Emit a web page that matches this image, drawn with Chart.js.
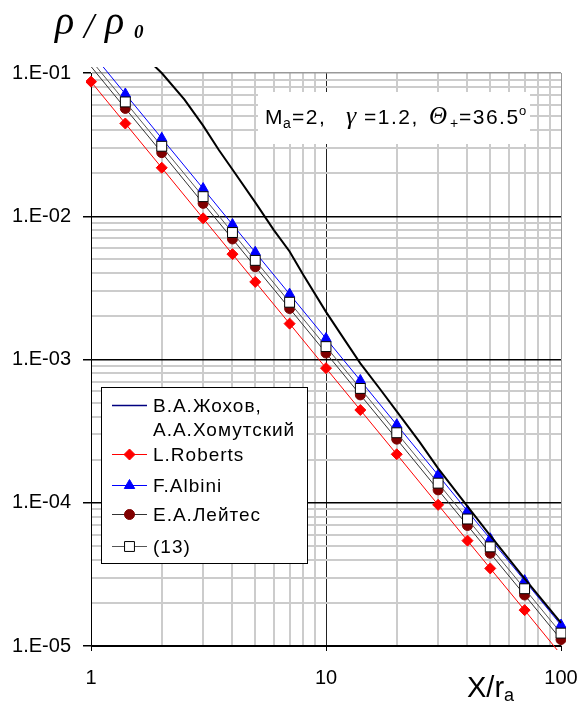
<!DOCTYPE html>
<html>
<head>
<meta charset="utf-8">
<script src="https://cdn.jsdelivr.net/npm/chart.js@4.4.0/dist/chart.umd.min.js"></script>
<style>
    html, body { margin: 0; padding: 0; background: #fff; }
    #wrap { width: 580px; height: 703px; position: relative; }
</style>
</head>
<body>
<div id="wrap"><canvas id="grafico" width="580" height="703"></canvas></div>
<script>
// datos
var xPuntos = [1, 1.4, 2, 3, 4, 5, 7, 10, 14, 20, 30, 40, 50, 70, 100];
var roberts = [0.087, 0.0444, 0.0218, 0.00967, 0.00544, 0.00348, 0.00178, 0.00087, 0.000444, 0.000218, 0.0000967, 0.0000544, 0.0000348, 0.0000178, 0.0000087];
var albini = [0.14, 0.0714, 0.035, 0.0156, 0.00875, 0.0056, 0.00286, 0.0014, 0.000714, 0.00035, 0.000156, 0.0000875, 0.000056, 0.0000286, 0.000014];
var leites = [0.111, 0.0566, 0.0278, 0.0123, 0.00694, 0.00444, 0.00227, 0.00111, 0.000566, 0.000278, 0.000123, 0.0000694, 0.0000444, 0.0000227, 0.0000111];
var formula13 = [0.123, 0.0628, 0.0308, 0.0137, 0.0077, 0.00492, 0.00251, 0.00123, 0.000628, 0.000308, 0.000137, 0.000077, 0.0000492, 0.0000251, 0.0000123];

var xZhokhov = [1.8, 2, 2.5, 3, 3.5, 4, 5, 6, 7, 8, 10, 12, 14, 17, 20, 25, 30, 40, 50, 70, 100];
var zhokhov = [0.118, 0.100, 0.0652, 0.0429, 0.029, 0.0212, 0.0125, 0.0080, 0.00568, 0.0039, 0.00215, 0.00137, 0.00094, 0.00062, 0.000435, 0.000266, 0.000174, 0.0000945, 0.000059, 0.0000295, 0.0000145];

var yMarcas = [1e-5, 1e-4, 1e-3, 1e-2, 1e-1];
var yEtiquetas = ['1.E-05', '1.E-04', '1.E-03', '1.E-02', '1.E-01'];
var xMarcas = [1, 10, 100];
var xEtiquetas = ['1', '10', '100'];

var FUENTE = '"Liberation Sans", Arial, sans-serif';

function puntos(xs, ys) {
    return xs.map(function (x, i) { return { x: x, y: ys[i] }; });
}

// marcas 1..9 de cada década para la rejilla
function marcasRejilla(marcas) {
    var out = [];
    var e0 = Math.round(Math.log10(marcas[0]));
    var e1 = Math.round(Math.log10(marcas[marcas.length - 1]));
    for (var e = e0; e <= e1; e++) {
        for (var k = 1; k <= 9; k++) {
            if (e === e1 && k > 1) break;
            out.push({ value: parseFloat((k * Math.pow(10, e)).toPrecision(6)), major: k === 1 });
        }
    }
    return out;
}

function etiqueta(marcas, etiquetas, value) {
    for (var i = 0; i < marcas.length; i++) {
        if (Math.abs(marcas[i] / value - 1) < 1e-6) return etiquetas[i];
    }
    return '';
}

function radioVisible(r) {
    return function (c) { return (c.raw && c.raw.y > 0.1) ? 0 : r; };
}

var extras = {
    id: 'extras',
    afterDraw: function (chart) {
        var ctx = chart.ctx;
        ctx.save();
        ctx.fillStyle = '#000';
        ctx.textBaseline = 'alphabetic';
        ctx.textAlign = 'left';

        // titulo eje Y
        ctx.font = 'italic 40px "Liberation Serif", serif';
        ctx.fillText('ρ', 55, 34);
        ctx.font = 'italic 36px "Liberation Serif", serif';
        ctx.fillText('/', 84, 38);
        ctx.font = 'italic 40px "Liberation Serif", serif';
        ctx.fillText('ρ', 105, 34);
        ctx.font = 'bold italic 19px "Liberation Serif", serif';
        ctx.fillText('0', 134, 38);

        // titulo eje X
        ctx.font = '29px ' + FUENTE;
        ctx.fillText('X/r', 467, 697);
        var w = ctx.measureText('X/r').width;
        ctx.font = '18px ' + FUENTE;
        ctx.fillText('a', 467 + w, 701);

        // recuadro de parámetros
        ctx.fillStyle = '#fff';
        ctx.fillRect(258, 92, 272, 52);
        ctx.fillStyle = '#000';
        ctx.letterSpacing = '1.5px';
        var partes = [
            ['M', '21px ' + FUENTE, 0, 265],
            ['a', '14px ' + FUENTE, 4, 283],
            ['=2,', '21px ' + FUENTE, 0, 292],
            ['γ', 'italic 26px "Liberation Serif", serif', 0, 346],
            ['=1.2,', '21px ' + FUENTE, 0, 364],
            ['Θ', 'italic 25px "Liberation Serif", serif', 0, 429],
            ['+', '14px ' + FUENTE, 4, 450],
            ['=36.5', '21px ' + FUENTE, 0, 459],
            ['o', '13px ' + FUENTE, -9, 519]
        ];
        partes.forEach(function (p) {
            ctx.font = p[1];
            ctx.fillText(p[0], p[3], 124 + p[2]);
        });
        ctx.letterSpacing = '0px';

        // leyenda
        ctx.fillStyle = '#fff';
        ctx.fillRect(101.5, 387.5, 206, 176);
        ctx.strokeStyle = '#000';
        ctx.lineWidth = 1;
        ctx.strokeRect(101.5, 387.5, 206, 176);

        var filas = [
            { y: 405, texto: ['В.А.Жохов,', 'А.А.Хомутский'], linea: '#000080', ancho: 1.5, punto: null },
            { y: 454, texto: ['L.Roberts'], linea: '#ff0000', ancho: 1, punto: { estilo: 'rectRot', r: 5.5, fondo: '#ff0000', borde: '#ff0000' } },
            { y: 485, texto: ['F.Albini'], linea: '#0000ff', ancho: 1, punto: { estilo: 'triangle', r: 6, fondo: '#0000ff', borde: '#0000ff' } },
            { y: 514, texto: ['Е.А.Лейтес'], linea: '#333333', ancho: 1, punto: { estilo: 'circle', r: 5, fondo: '#800000', borde: '#800000' } },
            { y: 546, texto: ['(13)'], linea: '#555555', ancho: 1, punto: { estilo: 'rect', r: 7, fondo: '#ffffff', borde: '#000000' } }
        ];
        filas.forEach(function (f) {
            ctx.strokeStyle = f.linea;
            ctx.lineWidth = f.ancho;
            ctx.beginPath();
            ctx.moveTo(112, f.y + 0.5);
            ctx.lineTo(147, f.y + 0.5);
            ctx.stroke();
            if (f.punto) {
                ctx.fillStyle = f.punto.fondo;
                ctx.strokeStyle = f.punto.borde;
                ctx.lineWidth = 1;
                Chart.helpers.drawPoint(ctx, { pointStyle: f.punto.estilo, radius: f.punto.r, rotation: 0, borderWidth: 1 }, 129.5, f.y + 0.5);
            }
            ctx.fillStyle = '#000';
            ctx.font = '19px ' + FUENTE;
            ctx.letterSpacing = '1px';
            ctx.textBaseline = 'middle';
            f.texto.forEach(function (t, i) {
                ctx.fillText(t, 153, f.y + 2 + i * 24);
            });
            ctx.letterSpacing = '0px';
            ctx.textBaseline = 'alphabetic';
        });
        ctx.restore();
    }
};

var recorte = { left: 5, top: 6, right: 5, bottom: 4 };

var ctx = document.getElementById('grafico').getContext('2d');
window.miGrafico = new Chart(ctx, {
    type: 'line',
    data: {
        datasets: [
            {
                label: '(13)',
                data: puntos(xPuntos, formula13),
                borderColor: '#555555',
                borderWidth: 1,
                pointStyle: 'rect',
                pointRadius: radioVisible(7),
                pointBackgroundColor: '#ffffff',
                pointBorderColor: '#000000',
                pointBorderWidth: 1,
                clip: recorte,
                order: 0
            },
            {
                label: 'В.А.Жохов, А.А.Хомутский',
                data: puntos(xZhokhov, zhokhov),
                borderColor: '#000000',
                borderWidth: 2,
                pointRadius: 0,
                clip: recorte,
                order: 1
            },
            {
                label: 'Е.А.Лейтес',
                data: puntos(xPuntos, leites),
                borderColor: '#333333',
                borderWidth: 1,
                pointStyle: 'circle',
                pointRadius: radioVisible(5),
                pointBackgroundColor: '#800000',
                pointBorderColor: '#800000',
                clip: recorte,
                order: 2
            },
            {
                label: 'F.Albini',
                data: puntos(xPuntos, albini),
                borderColor: '#0000ff',
                borderWidth: 1,
                pointStyle: 'triangle',
                pointRadius: radioVisible(6),
                pointBackgroundColor: '#0000ff',
                pointBorderColor: '#0000ff',
                clip: recorte,
                order: 3
            },
            {
                label: 'L.Roberts',
                data: puntos(xPuntos, roberts),
                borderColor: '#ff0000',
                borderWidth: 1,
                pointStyle: 'rectRot',
                pointRadius: radioVisible(5.5),
                pointBackgroundColor: '#ff0000',
                pointBorderColor: '#ff0000',
                clip: recorte,
                order: 4
            }
        ]
    },
    options: {
        responsive: false,
        animation: false,
        layout: { padding: { left: 0, top: 73, right: 19, bottom: 0 } },
        plugins: {
            legend: { display: false },
            tooltip: { enabled: false }
        },
        elements: { line: { tension: 0 } },
        scales: {
            x: {
                type: 'logarithmic',
                min: 1,
                max: 100,
                afterBuildTicks: function (scale) { scale.ticks = marcasRejilla(xMarcas); },
                afterFit: function (scale) {
                    scale.height = 57;
                    scale.paddingLeft = 0;
                    scale.paddingRight = 0;
                },
                border: { display: true, color: '#000000', width: 1 },
                grid: {
                    color: function (c) {
                        if (!c.tick) return '#cccccc';
                        if (c.tick.value === 100) return '#999999';
                        return c.tick.major ? '#222222' : '#cccccc';
                    },
                    lineWidth: function (c) { return (c.tick && c.tick.major) ? 1 : 2; },
                    tickLength: 5,
                    tickColor: function (c) { return (c.tick && c.tick.major) ? '#000000' : 'rgba(0,0,0,0)'; }
                },
                ticks: {
                    autoSkip: false,
                    maxRotation: 0,
                    minRotation: 0,
                    padding: 15,
                    color: '#000',
                    font: { family: FUENTE, size: 20 },
                    callback: function (value) { return etiqueta(xMarcas, xEtiquetas, value); }
                }
            },
            y: {
                type: 'logarithmic',
                min: 1e-5,
                max: 1e-1,
                afterBuildTicks: function (scale) { scale.ticks = marcasRejilla(yMarcas); },
                afterFit: function (scale) {
                    scale.width = 91;
                    scale.paddingTop = 0;
                    scale.paddingBottom = 0;
                },
                border: { display: true, color: '#000000', width: 1 },
                grid: {
                    color: function (c) {
                        if (!c.tick) return '#cccccc';
                        if (Math.abs(c.tick.value - 0.1) < 1e-9) return '#999999';
                        return c.tick.major ? '#000000' : '#cccccc';
                    },
                    lineWidth: function (c) { return (c.tick && c.tick.major) ? 1.5 : 2; },
                    tickLength: 8,
                    tickColor: function (c) { return (c.tick && c.tick.major) ? '#000000' : 'rgba(0,0,0,0)'; }
                },
                ticks: {
                    autoSkip: false,
                    padding: 12,
                    color: '#000',
                    font: { family: FUENTE, size: 20 },
                    callback: function (value) { return etiqueta(yMarcas, yEtiquetas, value); }
                }
            }
        }
    },
    plugins: [extras]
});
</script>
</body>
</html>
